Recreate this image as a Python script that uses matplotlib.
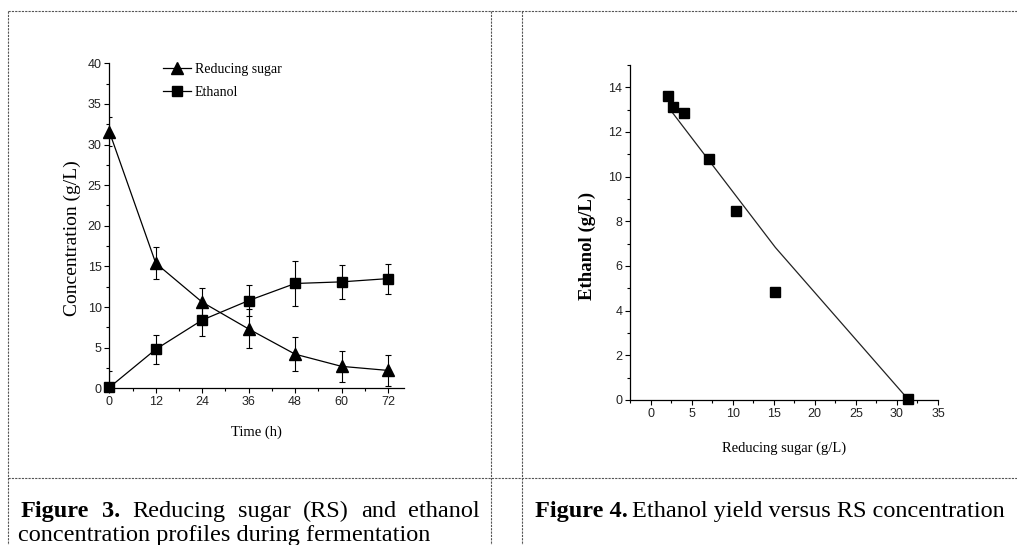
import numpy as np
import matplotlib
matplotlib.use("Agg")
import matplotlib.pyplot as plt
from matplotlib.lines import Line2D
from matplotlib.ticker import MultipleLocator

# Figure 3 data: concentration profiles
time_h = [0, 12, 24, 36, 48, 60, 72]
rs = [31.6, 15.4, 10.6, 7.3, 4.2, 2.7, 2.2]
rs_err = [1.8, 2.0, 1.8, 2.4, 2.1, 1.9, 1.9]
eth = [0.1, 4.8, 8.4, 10.8, 12.9, 13.1, 13.5]
eth_err = [2.0, 1.8, 2.0, 1.9, 2.8, 2.1, 1.85]

# Figure 4 data: ethanol vs reducing sugar
rs_pts = [2.1, 2.7, 4.1, 7.1, 10.35, 15.2, 31.3]
eth_pts = [13.6, 13.1, 12.85, 10.8, 8.45, 4.85, 0.05]
fit_x = [2.6, 15.2, 31.2]
fit_y = [12.9, 6.83, 0.1]

W, H = 1017, 545
serif = ['Liberation Serif', 'DejaVu Serif']
narrow = ['Liberation Sans Narrow', 'Liberation Sans', 'DejaVu Sans']

fig = plt.figure(figsize=(W / 100, H / 100), dpi=100)

def px_axes(l, t, r, b):
    return [l / W, 1 - b / H, (r - l) / W, (b - t) / H]

def style_axes(ax):
    for s in ['top', 'right']:
        ax.spines[s].set_visible(False)
    for s in ['left', 'bottom']:
        ax.spines[s].set_linewidth(0.9)
    ax.tick_params(which='major', direction='out', length=3.5, width=0.8, pad=2)
    ax.tick_params(which='minor', direction='out', length=2, width=0.8)
    for lab in ax.get_xticklabels() + ax.get_yticklabels():
        lab.set_family(narrow)
        lab.set_fontsize(9)
        lab.set_color('#222222')

# ---- left chart
ax1 = fig.add_axes(px_axes(109.3, 63.3, 403.5, 388.3))
ax1.errorbar(time_h, rs, yerr=rs_err, fmt='none', ecolor='black', elinewidth=0.8, capsize=2.5, capthick=0.8)
ax1.errorbar(time_h, eth, yerr=eth_err, fmt='none', ecolor='black', elinewidth=0.8, capsize=2.5, capthick=0.8)
ax1.plot(time_h, rs, '-^', color='black', lw=0.9, ms=8, label='Reducing sugar', clip_on=False)
ax1.plot(time_h, eth, '-s', color='black', lw=0.9, ms=7, label='Ethanol', clip_on=False)
ax1.set_xlim(0, 76)
ax1.set_ylim(0, 40)
ax1.set_xticks(time_h)
ax1.xaxis.set_minor_locator(MultipleLocator(6))
ax1.yaxis.set_major_locator(MultipleLocator(5))
ax1.yaxis.set_minor_locator(MultipleLocator(2.5))
style_axes(ax1)
ax1.set_xlabel('Time (h)', family=serif, fontsize=10.5)
ax1.set_ylabel('Concentration (g/L)', family=serif, fontsize=14)
ax1.xaxis.set_label_coords(0.5, -0.113)
ax1.yaxis.set_label_coords(-0.095, 0.462)
ax1.legend(loc='upper left', bbox_to_anchor=(0.14, 1.04), frameon=False,
           prop={'family': serif, 'size': 10}, handlelength=2.0,
           handletextpad=0.3, labelspacing=0.7)

# ---- right chart
ax2 = fig.add_axes(px_axes(630, 65, 938, 400))
ax2.plot(fit_x, fit_y, '-', color='#222222', lw=0.9)
ax2.plot(rs_pts, eth_pts, 's', color='black', ms=7, linestyle='none', clip_on=False)
ax2.set_xlim(-2.5, 35)
ax2.set_ylim(0, 15)
ax2.xaxis.set_major_locator(MultipleLocator(5))
ax2.xaxis.set_minor_locator(MultipleLocator(2.5))
ax2.yaxis.set_major_locator(MultipleLocator(2))
ax2.yaxis.set_minor_locator(MultipleLocator(1))
style_axes(ax2)
ax2.set_xlabel('Reducing sugar (g/L)', family=serif, fontsize=10.5)
ax2.set_ylabel('Ethanol (g/L)', family=serif, fontsize=13.5, fontweight='bold')
ax2.xaxis.set_label_coords(0.5, -0.125)
ax2.yaxis.set_label_coords(-0.11, 0.46)

# ---- table borders (dashed)
def fline(x0, y0, x1, y1):
    fig.add_artist(Line2D([x0 / W, x1 / W], [1 - y0 / H, 1 - y1 / H], transform=fig.transFigure,
                          color='#555555', lw=0.8, linestyle=(0, (2, 1))))

fline(8, 11, 1017, 11)
fline(8, 11, 8, 545)
fline(491, 11, 491, 545)
fline(522, 11, 522, 545)
fline(8, 478, 1017, 478)

# ---- captions
cap_size = 17.5
renderer = fig.canvas.get_renderer()

def justify(words, x0, x1, ybase):
    texts = []
    for w, bold in words:
        t = fig.text(0, 1 - ybase / H, w, family=serif, fontsize=cap_size,
                     fontweight='bold' if bold else 'normal', va='baseline', ha='left')
        texts.append(t)
    widths = [t.get_window_extent(renderer).width for t in texts]
    gap = (x1 - x0 - sum(widths)) / (len(words) - 1)
    x = x0
    for t, w in zip(texts, widths):
        t.set_x(x / W)
        x += w + gap

justify([('Figure', True), ('3.', True), ('Reducing', False), ('sugar', False), ('(RS)', False),
         ('and', False), ('ethanol', False)], 21, 480, 517)
fig.text(18 / W, 1 - 541 / H, 'concentration profiles during fermentation', family=serif,
         fontsize=cap_size, va='baseline')
fig.text(535 / W, 1 - 517 / H, 'Figure 4.', family=serif, fontsize=cap_size, fontweight='bold', va='baseline')
t4 = fig.text(0, 1 - 517 / H, 'Ethanol yield versus RS concentration', family=serif, fontsize=cap_size,
              va='baseline')
fw = fig.texts[-2].get_window_extent(renderer).width
t4.set_x((535 + fw + 4) / W)

fig.savefig('out.png', dpi=100)
